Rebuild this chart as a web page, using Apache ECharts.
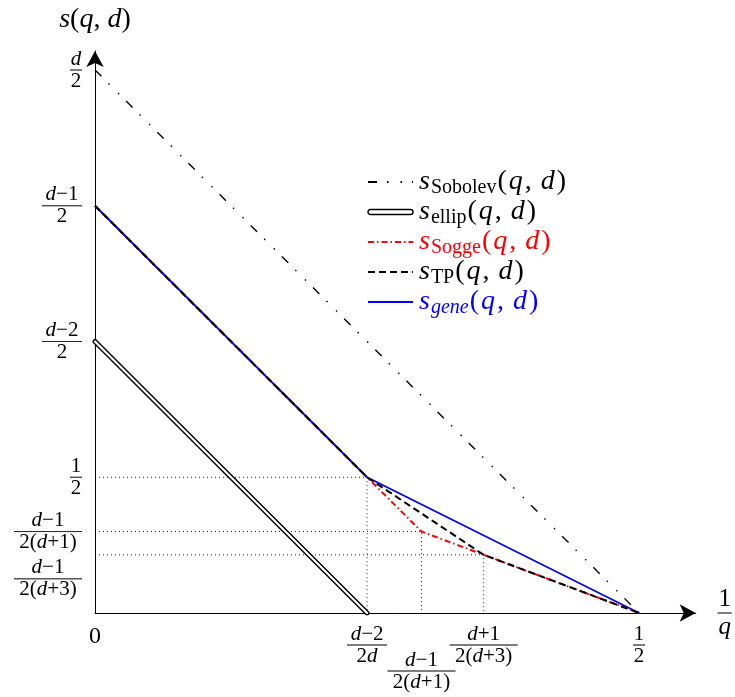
<!DOCTYPE html>
<html>
<head>
<meta charset="utf-8">
<script src="https://cdn.jsdelivr.net/npm/echarts@6/dist/echarts.min.js"></script>
<style>
  html, body { margin: 0; padding: 0; background: #fff; }
  #main { width: 735px; height: 697px; }
</style>
</head>
<body>
<div id="main"></div>
<script>
// d = 4 gives the positions used in the picture
var sobolevPts = [[0, 2], [0.5, 0]];
var ellipPts = [[0, 1], [0.25, 0]];
var soggePts = [[0, 1.5], [0.25, 0.5], [0.3, 0.3], [5 / 14, 3 / 14], [0.5, 0]];
var tpPts = [[0, 1.5], [0.25, 0.5], [5 / 14, 3 / 14], [0.5, 0]];
var genePts = [[0, 1.5], [0.25, 0.5], [0.5, 0]];

// dotted helper lines
var guide1 = [[0, 0.5], [0.25, 0.5], [0.25, 0]];
var guide2 = [[0, 0.3], [0.3, 0.3], [0.3, 0]];
var guide3 = [[0, 3 / 14], [5 / 14, 3 / 14], [5 / 14, 0]];

// tick values and their labels
var xTickValues = [0, 0.25, 0.3, 5 / 14, 0.5];
var xTickLabels = [
    '{big|0}',
    '{ni|d}{n|−2}\n{hrM|}\n{n|2}{ni|d}',
    '{gap|}\n{ni|d}{n|−1}\n{hrL|}\n{n|2(}{ni|d}{n|+1)}',
    '{ni|d}{n|+1}\n{hrL|}\n{n|2(}{ni|d}{n|+3)}',
    '{n|1}\n{hrS|}\n{n|2}'
];
var yTickValues = [0.3, 0.5, 1, 1.5, 2];
var yTickLabels = [
    '{ni|d}{n|−1}\n{hrL|}\n{n|2(}{ni|d}{n|+1)}',
    '{n|1}\n{hrS|}\n{n|2}',
    '{ni|d}{n|−2}\n{hrM|}\n{n|2}',
    '{ni|d}{n|−1}\n{hrM|}\n{n|2}',
    '{ni|d}\n{hrS|}\n{n|2}'
];
// this one sits lower, on its own axis so it is not dropped as overlapping
var yLowValues = [3 / 14];
var yLowLabels = ['{gap2|}\n{ni|d}{n|−1}\n{hrL|}\n{n|2(}{ni|d}{n|+3)}'];

var FONT = '"Liberation Serif", "DejaVu Serif", serif';

var fracRich = {
    n: { fontFamily: FONT, fontSize: 21, lineHeight: 18, align: 'center', color: '#000' },
    ni: { fontFamily: FONT, fontSize: 21, lineHeight: 18, align: 'center', fontStyle: 'italic', color: '#000' },
    hrS: { borderColor: '#000', borderWidth: 0.6, width: 12, height: 0, lineHeight: 4, align: 'center' },
    hrM: { borderColor: '#000', borderWidth: 0.6, width: 40, height: 0, lineHeight: 4, align: 'center' },
    hrL: { borderColor: '#000', borderWidth: 0.6, width: 68, height: 0, lineHeight: 4, align: 'center' },
    big: { fontFamily: FONT, fontSize: 24, color: '#000' },
    gap: { height: 26, lineHeight: 26 },
    gap2: { height: 48, lineHeight: 48 }
};

function pickLabel(values, labels, v) {
    for (var i = 0; i < values.length; i++) {
        if (Math.abs(values[i] - v) < 1e-6) return labels[i];
    }
    return '';
}

// legend texts, built from rich pieces
var legendRich = {};
['K', 'R', 'B'].forEach(function (k) {
    var c = k == 'K' ? '#000' : (k == 'R' ? '#ff0000' : '#0000ff');
    legendRich['s' + k] = { fontFamily: FONT, fontSize: 28, fontStyle: 'italic', color: c, lineHeight: 26, padding: [0, 1, 0, 1] };
    legendRich['p' + k] = { fontFamily: FONT, fontSize: 28, color: c, lineHeight: 26, padding: [0, 1, 0, 1] };
    legendRich['sub' + k] = { fontFamily: FONT, fontSize: 20, color: c, padding: [12, 0, 0, 0] };
    legendRich['subi' + k] = { fontFamily: FONT, fontSize: 20, fontStyle: 'italic', color: c, padding: [12, 0, 0, 0] };
});

function legendText(name) {
    var k = name == 'Sogge' ? 'R' : (name == 'gene' ? 'B' : 'K');
    var sub = name == 'gene' ? '{subi' + k + '|gene}' : '{sub' + k + '|' + name + '}';
    return '{s' + k + '|s}' + sub + '{p' + k + '|(}{s' + k + '|q}{p' + k + '|, }{s' + k + '|d}{p' + k + '|)}';
}

function guideSeries(pts) {
    return {
        type: 'line', data: pts, symbol: 'none', silent: true,
        lineStyle: { color: '#222', width: 1, type: [1, 3] }, z: 1
    };
}

var yMax = 2.07;

var myChart = echarts.init(document.getElementById('main'));
var option = {
    animation: false,
    backgroundColor: '#fff',
    grid: { left: 95, right: 38, top: 51, bottom: 84 },
    xAxis: {
        type: 'value', min: 0, max: 0.552,
        splitLine: { show: false },
        axisTick: { show: false },
        axisLine: { onZero: false, symbol: ['none', 'arrow'], symbolSize: [13, 16], lineStyle: { color: '#000', width: 1 } },
        axisLabel: {
            customValues: xTickValues,
            margin: 12,
            hideOverlap: false,
            showMinLabel: true,
            showMaxLabel: true,
            verticalAlign: 'top',
            formatter: function (v) { return pickLabel(xTickValues, xTickLabels, v); },
            rich: fracRich
        },
        name: '{n|1}\n{hr|}\n{ni|q}',
        nameLocation: 'end',
        nameGap: 22,
        nameTextStyle: {
            rich: {
                n: { fontFamily: FONT, fontSize: 25, lineHeight: 24, align: 'center', color: '#000' },
                ni: { fontFamily: FONT, fontSize: 25, lineHeight: 24, align: 'center', fontStyle: 'italic', color: '#000' },
                hr: { borderColor: '#000', borderWidth: 0.6, width: 14, height: 0, lineHeight: 4, align: 'center' }
            }
        }
    },
    yAxis: [{
        type: 'value', min: 0, max: yMax,
        splitLine: { show: false },
        axisTick: { show: false },
        axisLine: { onZero: false, symbol: ['none', 'arrow'], symbolSize: [13, 16], lineStyle: { color: '#000', width: 1 } },
        axisLabel: {
            customValues: yTickValues,
            margin: 13,
            hideOverlap: false,
            showMinLabel: true,
            showMaxLabel: true,
            formatter: function (v) { return pickLabel(yTickValues, yTickLabels, v); },
            rich: fracRich
        },
        name: '{i|s}{p|(}{i|q}{p|, }{i|d}{p|)}',
        nameLocation: 'end',
        nameGap: 17,
        nameTextStyle: {
            align: 'center',
            rich: {
                i: { fontFamily: FONT, fontSize: 28, fontStyle: 'italic', color: '#000' },
                p: { fontFamily: FONT, fontSize: 28, color: '#000' }
            }
        }
    }, {
        type: 'value', min: 0, max: yMax, position: 'left',
        splitLine: { show: false },
        axisTick: { show: false },
        axisLine: { show: false },
        axisLabel: {
            customValues: yLowValues,
            margin: 13,
            showMinLabel: true,
            showMaxLabel: true,
            formatter: function (v) { return pickLabel(yLowValues, yLowLabels, v); },
            rich: fracRich
        }
    }],
    legend: {
        orient: 'vertical',
        left: 367, top: 168,
        padding: 0,
        itemGap: 0,
        itemWidth: 45, itemHeight: 14,
        selectedMode: false,
        itemStyle: { opacity: 0 },
        data: [
            { name: 'Sobolev' },
            { name: 'ellip', icon: 'path://M2.5 0H42.5A2.5 2.5 0 0 1 42.5 5H2.5A2.5 2.5 0 0 1 2.5 0Z',
              itemStyle: { color: '#fff', borderColor: '#000', borderWidth: 1.4, opacity: 1 } },
            { name: 'Sogge' },
            { name: 'TP' },
            { name: 'gene' }
        ],
        formatter: legendText,
        textStyle: { rich: legendRich }
    },
    series: [
        guideSeries(guide1),
        guideSeries(guide2),
        guideSeries(guide3),
        {
            name: 'Sobolev', type: 'line', data: sobolevPts, symbol: 'none',
            lineStyle: { color: '#000', width: 1.4, type: [9, 10, 1.5, 12, 1.5, 10] }, itemStyle: { color: '#000' }
        },
        {
            name: 'ellip', type: 'line', data: ellipPts, symbol: 'none',
            lineStyle: { color: '#000', width: 5, cap: 'round' }, itemStyle: { color: '#000' }
        },
        {
            name: 'ellipInner', type: 'line', data: ellipPts, symbol: 'none', silent: true,
            lineStyle: { color: '#fff', width: 2.2, cap: 'round' }
        },
        {
            name: 'Sogge', type: 'line', data: soggePts, symbol: 'none',
            lineStyle: { color: '#ff0000', width: 2, type: [6, 3, 1.5, 3] }, itemStyle: { color: '#ff0000' }
        },
        {
            name: 'gene', type: 'line', data: genePts, symbol: 'none',
            lineStyle: { color: '#0000ff', width: 1.8 }, itemStyle: { color: '#0000ff' }
        },
        {
            name: 'TP', type: 'line', data: tpPts, symbol: 'none',
            lineStyle: { color: '#000', width: 2, type: [7, 4] }, itemStyle: { color: '#000' }
        }
    ]
};
myChart.setOption(option);
</script>
</body>
</html>
